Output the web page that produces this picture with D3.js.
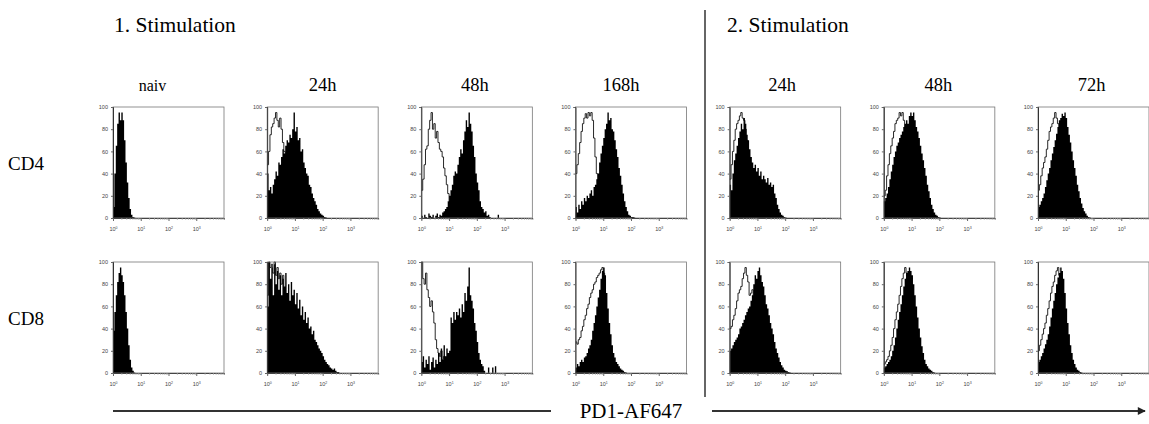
<!DOCTYPE html>
<html>
<head>
<meta charset="utf-8">
<script src="https://cdn.jsdelivr.net/npm/d3@7"></script>
<style>
  body { margin: 0; background: #fff; }
  svg { display: block; }
  .tick text { font-family: Arial, "Liberation Sans", sans-serif; }
</style>
</head>
<body>
<svg id="chart" width="1149" height="424"></svg>
<script>
// ---- data -------------------------------------------------------------
const stimLabels = ['1. Stimulation', '2. Stimulation'];
const columns = ['naiv', '24h', '48h', '168h', '24h', '48h', '72h'];
const rows = ['CD4', 'CD8'];
const yTicks = [0, 20, 40, 60, 80, 100];
const xDecades = [0, 1, 2, 3];
const axisTitle = 'PD1-AF647';
const binStep = 0.05; // decades per histogram bin

// filled histograms (PD1 stain), % of max, one value per bin from 10^0
const cd4Naiv = [10, 40, 65, 85, 95, 88, 95, 88, 70, 50, 32, 18, 8, 3, 1, 0.5, 0];
const cd4H24 = [40, 25, 28, 22, 30, 35, 42, 38, 50, 48, 55, 62, 58, 65, 70, 68, 75, 72, 80, 95, 78, 82, 70, 72, 60, 62, 50, 45, 40, 38, 30, 28, 22, 18, 15, 12, 8, 6, 4, 3, 2, 1, 0.5, 0];
const cd4H48 = [2, 0, 3, 1, 0, 4, 2, 1, 3, 0, 2, 4, 1, 3, 2, 5, 6, 8, 10, 15, 20, 25, 30, 38, 42, 40, 48, 55, 62, 58, 70, 78, 88, 82, 95, 85, 78, 65, 55, 40, 32, 25, 15, 10, 8, 5, 6, 2, 3, 1, 0, 0, 0, 0, 0, 3, 0];
const cd4H168 = [10, 5, 12, 8, 15, 12, 18, 15, 20, 18, 22, 25, 20, 28, 30, 35, 40, 50, 58, 65, 72, 80, 85, 95, 88, 90, 80, 78, 70, 62, 55, 45, 38, 30, 22, 15, 10, 6, 3, 2, 1, 1, 0.5, 0];
const cd4S2H24 = [30, 25, 40, 52, 58, 65, 72, 78, 85, 80, 90, 85, 75, 70, 62, 55, 50, 45, 48, 42, 45, 38, 42, 35, 38, 35, 32, 36, 30, 32, 28, 30, 22, 18, 12, 8, 5, 3, 2, 1, 0.5, 0];
const cd4S2H48 = [15, 18, 22, 28, 35, 42, 48, 55, 60, 65, 68, 72, 75, 78, 82, 85, 88, 85, 92, 95, 92, 95, 88, 82, 78, 72, 65, 58, 52, 45, 38, 30, 24, 18, 12, 8, 5, 3, 2, 1, 0.5, 0];
const cd4S2H72 = [10, 12, 15, 18, 22, 28, 34, 40, 45, 52, 58, 64, 70, 76, 82, 88, 90, 94, 92, 95, 90, 82, 75, 68, 60, 52, 45, 38, 30, 24, 18, 13, 9, 6, 4, 2, 1, 0.5, 0];
const cd8Naiv = [38, 55, 70, 82, 90, 95, 88, 82, 70, 55, 40, 25, 12, 5, 2, 0.5, 0];
const cd8H24 = [60, 100, 85, 95, 70, 98, 80, 92, 75, 88, 70, 85, 78, 90, 72, 80, 65, 82, 70, 75, 62, 72, 58, 66, 52, 60, 48, 55, 45, 50, 40, 42, 35, 38, 30, 28, 25, 22, 20, 18, 15, 12, 10, 8, 7, 5, 4, 3, 4, 2, 1, 1, 0];
const cd8H48 = [10, 15, 5, 12, 8, 15, 3, 10, 14, 5, 12, 8, 18, 10, 22, 12, 25, 15, 22, 18, 20, 50, 45, 55, 48, 55, 52, 58, 50, 62, 55, 72, 65, 78, 95, 70, 65, 58, 45, 38, 28, 18, 12, 8, 6, 2, 0, 0, 5, 0, 0, 5, 0, 6, 0];
const cd8H168 = [5, 8, 6, 10, 12, 10, 14, 15, 18, 22, 25, 30, 38, 45, 52, 60, 68, 75, 85, 92, 95, 88, 72, 58, 45, 35, 25, 18, 14, 10, 8, 6, 4, 3, 2, 1, 0.5, 0];
const cd8S2H24 = [20, 22, 25, 28, 30, 32, 35, 40, 42, 45, 48, 52, 55, 58, 60, 65, 70, 80, 88, 85, 92, 95, 88, 82, 78, 70, 62, 58, 52, 45, 40, 35, 28, 22, 18, 14, 10, 7, 5, 3, 2, 1.5, 1, 0.5, 0];
const cd8S2H48 = [5, 6, 8, 10, 12, 15, 20, 25, 32, 40, 48, 55, 62, 70, 78, 85, 90, 92, 95, 92, 88, 80, 70, 60, 50, 40, 32, 24, 18, 12, 8, 6, 4, 3, 2, 1, 0.5, 0];
const cd8S2H72 = [10, 12, 15, 18, 22, 26, 30, 35, 42, 50, 58, 65, 72, 80, 86, 90, 95, 92, 85, 72, 58, 45, 35, 25, 18, 12, 8, 5, 3, 2, 1, 0.5, 0];

// open histograms (control), null where the panel has none
const cd4H24Ctrl = [48, 60, 75, 82, 85, 90, 95, 88, 82, 90, 80, 68, 60, 55, 50, 40, 30, 20, 10, 0];
const cd4H48Ctrl = [25, 35, 48, 62, 65, 80, 88, 95, 80, 85, 72, 78, 68, 62, 60, 55, 45, 38, 30, 22, 15, 8, 4, 2, 0];
const cd4H168Ctrl = [40, 48, 58, 68, 78, 85, 90, 94, 90, 95, 92, 95, 88, 72, 55, 40, 30, 22, 15, 10, 5, 0];
const cd4S2H24Ctrl = [35, 48, 60, 70, 80, 85, 88, 92, 95, 90, 88, 80, 70, 60, 50, 40, 30, 20, 10, 0];
const cd4S2H48Ctrl = [20, 25, 38, 48, 58, 65, 72, 78, 85, 88, 90, 95, 92, 95, 88, 82, 70, 50, 30, 0];
const cd4S2H72Ctrl = [25, 30, 38, 45, 50, 55, 62, 70, 78, 82, 85, 90, 95, 90, 85, 60, 40, 0];
const cd8H24Ctrl = [70, 100, 95, 98, 90, 100, 88, 95, 85, 90, 80, 88, 70, 65, 50, 30, 0];
const cd8H48Ctrl = [100, 85, 80, 90, 75, 68, 60, 65, 55, 45, 30, 22, 18, 15, 20, 12, 15, 10, 12, 8, 5, 0];
const cd8H168Ctrl = [28, 26, 30, 32, 38, 42, 48, 52, 58, 62, 68, 72, 75, 80, 82, 86, 88, 90, 93, 95, 90, 70, 40, 0];
const cd8S2H24Ctrl = [40, 42, 48, 52, 58, 65, 72, 75, 78, 85, 90, 95, 88, 82, 70, 72, 75, 60, 40, 0];
const cd8S2H48Ctrl = [8, 10, 12, 15, 20, 25, 32, 40, 48, 55, 62, 70, 78, 85, 90, 95, 90, 80, 50, 0];
const cd8S2H72Ctrl = [20, 25, 30, 35, 40, 45, 52, 58, 65, 72, 78, 82, 88, 92, 95, 88, 60, 0];

const stained = [
  [cd4Naiv, cd4H24, cd4H48, cd4H168, cd4S2H24, cd4S2H48, cd4S2H72],
  [cd8Naiv, cd8H24, cd8H48, cd8H168, cd8S2H24, cd8S2H48, cd8S2H72]
];
const control = [
  [null, cd4H24Ctrl, cd4H48Ctrl, cd4H168Ctrl, cd4S2H24Ctrl, cd4S2H48Ctrl, cd4S2H72Ctrl],
  [null, cd8H24Ctrl, cd8H48Ctrl, cd8H168Ctrl, cd8S2H24Ctrl, cd8S2H48Ctrl, cd8S2H72Ctrl]
];

// ---- layout -----------------------------------------------------------
const svg = d3.select('#chart');
const serif = '"Liberation Serif", "Times New Roman", serif';
const boxW = 111, boxH = 111;
const colX = d3.scaleLinear().domain([0, 6]).range([113, 1038]);
const rowY = d3.scaleLinear().domain([0, 1]).range([107, 262]);
const headerShift = [-16, 0, -2, -10, -3, -1, -2];

const x = d3.scaleLog().domain([1, 10000]).range([0, boxW]);
const y = d3.scaleLinear().domain([0, 100]).range([boxH, 0]);

function toPoints(vals) {
  let pts = vals.map((v, i) => [Math.pow(10, i * binStep), v]);
  pts.push([Math.pow(10, vals.length * binStep), 0]);
  return pts;
}

const area = d3.area()
  .x(d => x(d[0]))
  .y0(boxH)
  .y1(d => y(d[1]))
  .curve(d3.curveStepAfter);

const line = d3.line()
  .x(d => x(d[0]))
  .y(d => y(d[1]))
  .curve(d3.curveStepAfter);

// minor log ticks 2..9 x 10^k
let minor = [];
for (let k = 0; k < 4; k++) {
  for (let m = 2; m <= 9; m++) minor.push(m * Math.pow(10, k));
}

// ---- panels -----------------------------------------------------------
rows.forEach(function(rowName, r) {
  columns.forEach(function(colName, c) {
    let g = svg.append('g')
      .attr('transform', 'translate(' + colX(c) + ',' + rowY(r) + ')');

    // control outline goes under the filled stain histogram
    if (control[r][c]) {
      g.append('path')
        .datum(toPoints(control[r][c]))
        .attr('d', line)
        .attr('fill', 'none')
        .attr('stroke', '#111')
        .attr('stroke-width', 0.9);
    }
    g.append('path')
      .datum(toPoints(stained[r][c]))
      .attr('d', area)
      .attr('fill', '#000');

    g.append('rect')
      .attr('width', boxW)
      .attr('height', boxH)
      .attr('fill', 'none')
      .attr('stroke', '#777')
      .attr('stroke-width', 0.8);

    // y axis
    let ya = g.append('g')
      .call(d3.axisLeft(y).tickValues(yTicks).tickSize(2).tickPadding(3));
    ya.select('.domain').attr('stroke', '#333');
    ya.selectAll('.tick line').attr('stroke', '#666');
    ya.selectAll('.tick text').attr('font-size', 5.5).attr('fill', '#444');

    // x axis: majors with labels, minors without
    let xa = g.append('g')
      .attr('transform', 'translate(0,' + boxH + ')')
      .call(d3.axisBottom(x).tickValues(minor).tickSize(1.5).tickFormat(''));
    xa.select('.domain').attr('stroke', '#444');
    xa.selectAll('.tick line').attr('stroke', '#888');

    let xm = g.append('g')
      .attr('transform', 'translate(0,' + boxH + ')')
      .call(d3.axisBottom(x).tickValues(xDecades.map(e => Math.pow(10, e))).tickSize(3).tickPadding(3).tickFormat(''));
    xm.select('.domain').remove();
    xm.selectAll('.tick line').attr('stroke', '#666');
    xm.selectAll('.tick').each(function(d) {
      let t = d3.select(this).append('text')
        .attr('y', 13)
        .attr('fill', '#444')
        .attr('font-size', 5.5)
        .attr('text-anchor', 'middle');
      t.append('tspan').text('10');
      t.append('tspan').attr('dy', -2).attr('font-size', 3.5).text(Math.round(Math.log10(d)));
    });
  });
});

// column headers
svg.selectAll('.colhead')
  .data(columns)
  .enter().append('text')
  .attr('class', 'colhead')
  .attr('x', (d, i) => colX(i) + boxW / 2 + headerShift[i])
  .attr('y', 91)
  .attr('text-anchor', 'middle')
  .attr('font-family', serif)
  .attr('font-size', (d, i) => i === 0 ? 16 : 18.5)
  .text(d => d);

// row labels
svg.selectAll('.rowhead')
  .data(rows)
  .enter().append('text')
  .attr('class', 'rowhead')
  .attr('x', 8)
  .attr('y', (d, i) => rowY(i) + 63)
  .attr('font-family', serif)
  .attr('font-size', 19)
  .text(d => d);

// stimulation titles
svg.selectAll('.stim')
  .data(stimLabels)
  .enter().append('text')
  .attr('class', 'stim')
  .attr('x', (d, i) => i === 0 ? 114 : 727)
  .attr('y', 32)
  .attr('font-family', serif)
  .attr('font-size', 21.5)
  .text(d => d);

// divider between stimulations
svg.append('line')
  .attr('x1', 705).attr('x2', 705)
  .attr('y1', 10).attr('y2', 397)
  .attr('stroke', '#333')
  .attr('stroke-width', 1.5);

// bottom axis title with arrow
svg.append('defs').append('marker')
  .attr('id', 'arrow')
  .attr('viewBox', '0 0 10 10')
  .attr('refX', 9).attr('refY', 5)
  .attr('markerWidth', 6).attr('markerHeight', 4)
  .attr('markerUnits', 'strokeWidth')
  .attr('orient', 'auto')
  .append('path')
  .attr('d', 'M0,0 L10,5 L0,10 z')
  .attr('fill', '#222');

svg.append('line')
  .attr('x1', 113).attr('x2', 551)
  .attr('y1', 411).attr('y2', 411)
  .attr('stroke', '#333').attr('stroke-width', 2);

svg.append('line')
  .attr('x1', 712).attr('x2', 1145)
  .attr('y1', 411).attr('y2', 411)
  .attr('stroke', '#333').attr('stroke-width', 2)
  .attr('marker-end', 'url(#arrow)');

svg.append('text')
  .attr('x', 631)
  .attr('y', 418)
  .attr('text-anchor', 'middle')
  .attr('font-family', serif)
  .attr('font-size', 21)
  .text(axisTitle);
</script>
</body>
</html>
